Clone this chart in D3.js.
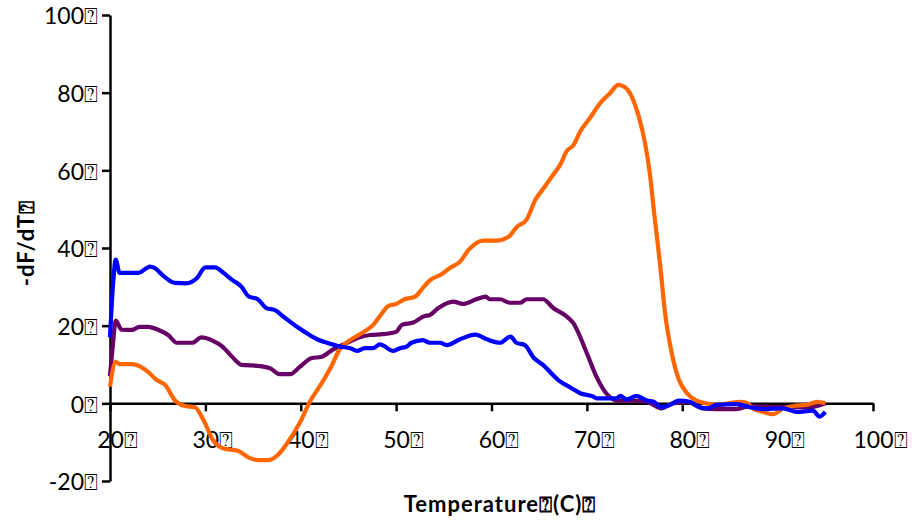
<!DOCTYPE html>
<html>
<head>
    <title>-dF/dT melt curves</title>
    <script src="https://d3js.org/d3.v7.min.js"></script>
    <style>
        body { margin: 0; background: #fff; }
        .axis text { font-family: Lato, "DejaVu Sans", sans-serif; font-size: 23px; fill: #000; }
        .axis path, .axis line { stroke: #000; stroke-width: 2.5px; }
        .title { font-family: Lato, "DejaVu Sans", sans-serif; font-weight: bold; font-size: 22px; letter-spacing: 1px; fill: #000; }
        .series { fill: none; stroke-width: 4.2px; stroke-linejoin: round; }
    </style>
</head>
<body>
<div id="chart"></div>
<script>
    // tick labels and series values
    const xTicks = [20, 30, 40, 50, 60, 70, 80, 90, 100];
    const yTicks = [-20, 0, 20, 40, 60, 80, 100];
    const mark = "\u2370"; // the missing-glyph box after each label

    const purpleT = [20.0, 20.3, 20.6, 21.2, 22.3, 23.1, 24.0, 25.1, 26.1, 27.0, 28.6, 29.6, 30.8, 31.7, 32.8, 33.8, 35.7, 36.8, 37.8, 38.9, 39.9, 41.1, 42.2, 43.4, 44.8, 46.2, 47.3, 48.6, 50.0, 50.6, 51.8, 53.0, 53.5, 54.4, 56.0, 57.0, 58.4, 59.4, 59.8, 60.9, 61.9, 63.0, 63.7, 65.4, 66.5, 67.7, 68.6, 70.0, 71.0, 72.2, 73.1, 74.9, 76.3, 77.8, 79.0, 80.5, 82.2, 83.6, 85.7, 87.1, 90.6, 93.4, 95.0];
    const purpleV = [7, 15, 21.3, 19, 18.9, 19.7, 19.7, 18.9, 17.6, 15.6, 15.6, 17, 16.1, 14.8, 12, 9.9, 9.6, 9, 7.5, 7.5, 9.4, 11.6, 12, 13.9, 15.5, 17, 17.6, 17.8, 18.4, 20.2, 20.8, 22.5, 22.7, 24.5, 26.2, 25.6, 26.8, 27.5, 26.8, 26.8, 25.9, 25.9, 26.8, 26.8, 24.5, 22.7, 20.6, 12.9, 6.9, 2.1, 0.7, 0.7, 0.4, -1.3, 0, 0.4, -1.3, -1.5, -1.5, -0.7, -1, -1, 0];

    const orangeT = [20.0, 20.6, 21.0, 22.3, 24.0, 24.9, 25.8, 26.8, 27.9, 28.9, 29.8, 30.8, 31.9, 33.4, 34.5, 35.5, 36.6, 37.6, 38.6, 39.9, 41.0, 42.1, 43.2, 44.1, 45.2, 46.6, 47.6, 48.4, 49.2, 50.0, 50.9, 52.0, 52.7, 53.5, 54.8, 55.6, 56.7, 57.6, 59.1, 60.5, 61.8, 62.6, 63.7, 64.6, 65.5, 66.5, 67.2, 67.9, 68.6, 69.3, 70.3, 71.4, 72.4, 73.3, 74.0, 74.7, 75.4, 76.1, 76.6, 77.1, 77.7, 78.2, 78.9, 79.6, 80.5, 81.5, 82.5, 83.6, 86.0, 86.7, 87.4, 88.5, 89.5, 90.6, 91.6, 93.0, 94.2, 95.0];
    const orangeV = [4.3, 10.7, 10.1, 10.1, 8.1, 6, 4.7, 0.8, -0.7, -1, -4.3, -9.5, -11.6, -12.2, -13.9, -14.6, -14.6, -13.3, -10.2, -5, 0.6, 4.8, 9.5, 14, 16.3, 18.4, 20.2, 22.8, 25.1, 25.6, 26.8, 27.5, 29.4, 31.6, 33.3, 34.8, 36.5, 39.5, 41.9, 41.9, 42.9, 45.3, 47.4, 52.4, 55.5, 59, 61.4, 65, 66.5, 70, 73.4, 77.3, 79.8, 82, 81.4, 79, 74.2, 67, 59.2, 48, 35.2, 23.2, 12.9, 6.4, 2.6, 0.7, 0, -0.4, 0.4, 0.2, -1.3, -2.2, -2.8, -1.3, -0.7, -0.4, 0.4, 0];

    const blueT = [20.0, 20.3, 20.6, 21.0, 23.0, 24.2, 24.7, 25.6, 26.8, 28.0, 29.1, 30.0, 31.0, 31.9, 32.8, 33.8, 34.5, 35.5, 36.4, 37.3, 38.2, 39.6, 40.4, 41.7, 42.9, 44.1, 45.2, 45.9, 46.7, 47.6, 48.3, 49.7, 50.4, 51.1, 51.6, 52.8, 53.5, 54.6, 55.3, 56.7, 58.3, 59.5, 60.9, 62.0, 62.6, 63.5, 64.4, 65.4, 67.0, 68.4, 69.3, 70.7, 71.0, 73.1, 73.5, 74.2, 75.2, 76.3, 77.0, 77.8, 78.7, 79.6, 80.8, 81.8, 82.7, 83.6, 85.7, 87.1, 88.5, 90.6, 92.0, 93.7, 94.4, 95.0];
    const blueV = [17, 30, 37, 33.6, 33.6, 35.2, 34.8, 32.8, 31, 30.9, 32.2, 35, 35, 33.6, 31.8, 30, 27.6, 26.8, 24.5, 24, 22.3, 19.7, 18.4, 16.5, 15.5, 14.6, 14.2, 13.5, 14.2, 14.2, 15.2, 13.5, 14.2, 14.6, 15.6, 16.3, 15.6, 15.6, 15, 16.5, 17.7, 16.5, 15.6, 17.2, 15.6, 15, 11.8, 9.9, 6, 3.9, 2.6, 1.7, 1.3, 1.3, 1.9, 1.0, 1.9, 0.7, 0.4, -1.0, -0.4, 0.7, 0.4, -1.0, -1.3, -0.4, -0.2, -1, -1.5, -1.3, -2.2, -1.9, -3.4, -2.2];

    const series = [
        { name: "purple", color: "#660066", t: purpleT, v: purpleV },
        { name: "orange", color: "#ff6600", t: orangeT, v: orangeV },
        { name: "blue", color: "#0000ff", t: blueT, v: blueV }
    ];

    const width = 912, height = 522;

    const svg = d3.select("#chart").append("svg")
        .attr("width", width)
        .attr("height", height);

    const x = d3.scaleLinear().domain([20, 100]).range([110, 873]);
    const y = d3.scaleLinear().domain([-20, 100]).range([481, 15]);

    // y axis
    const yAxis = svg.append("g")
        .attr("class", "axis")
        .attr("transform", `translate(${x(20)},0)`)
        .call(d3.axisLeft(y).tickValues(yTicks).tickSize(8).tickSizeOuter(0).tickPadding(4)
            .tickFormat(d => d + mark));
    yAxis.selectAll("text").attr("dy", "0.38em");

    // x axis sits on zero
    const xAxis = svg.append("g")
        .attr("class", "axis")
        .attr("transform", `translate(0,${y(0)})`)
        .call(d3.axisBottom(x).tickValues(xTicks).tickSize(8).tickSizeOuter(0).tickPadding(20)
            .tickFormat(d => d + mark));
    xAxis.selectAll("text").attr("dx", 7);

    // lines
    const line = d3.line()
        .x(d => x(d[0]))
        .y(d => y(d[1]))
        .curve(d3.curveMonotoneX);

    svg.selectAll(".series")
        .data(series)
        .enter()
        .append("path")
        .attr("class", "series")
        .attr("stroke", d => d.color)
        .attr("d", d => line(d3.zip(d.t, d.v)));

    // axis titles
    svg.append("text")
        .attr("class", "title")
        .attr("x", 500)
        .attr("y", 512)
        .attr("text-anchor", "middle")
        .text("Temperature" + mark + "(C)" + mark);

    svg.append("text")
        .attr("class", "title")
        .attr("transform", "translate(34,243) rotate(-90)")
        .attr("text-anchor", "middle")
        .text("-dF/dT" + mark);
</script>
</body>
</html>
